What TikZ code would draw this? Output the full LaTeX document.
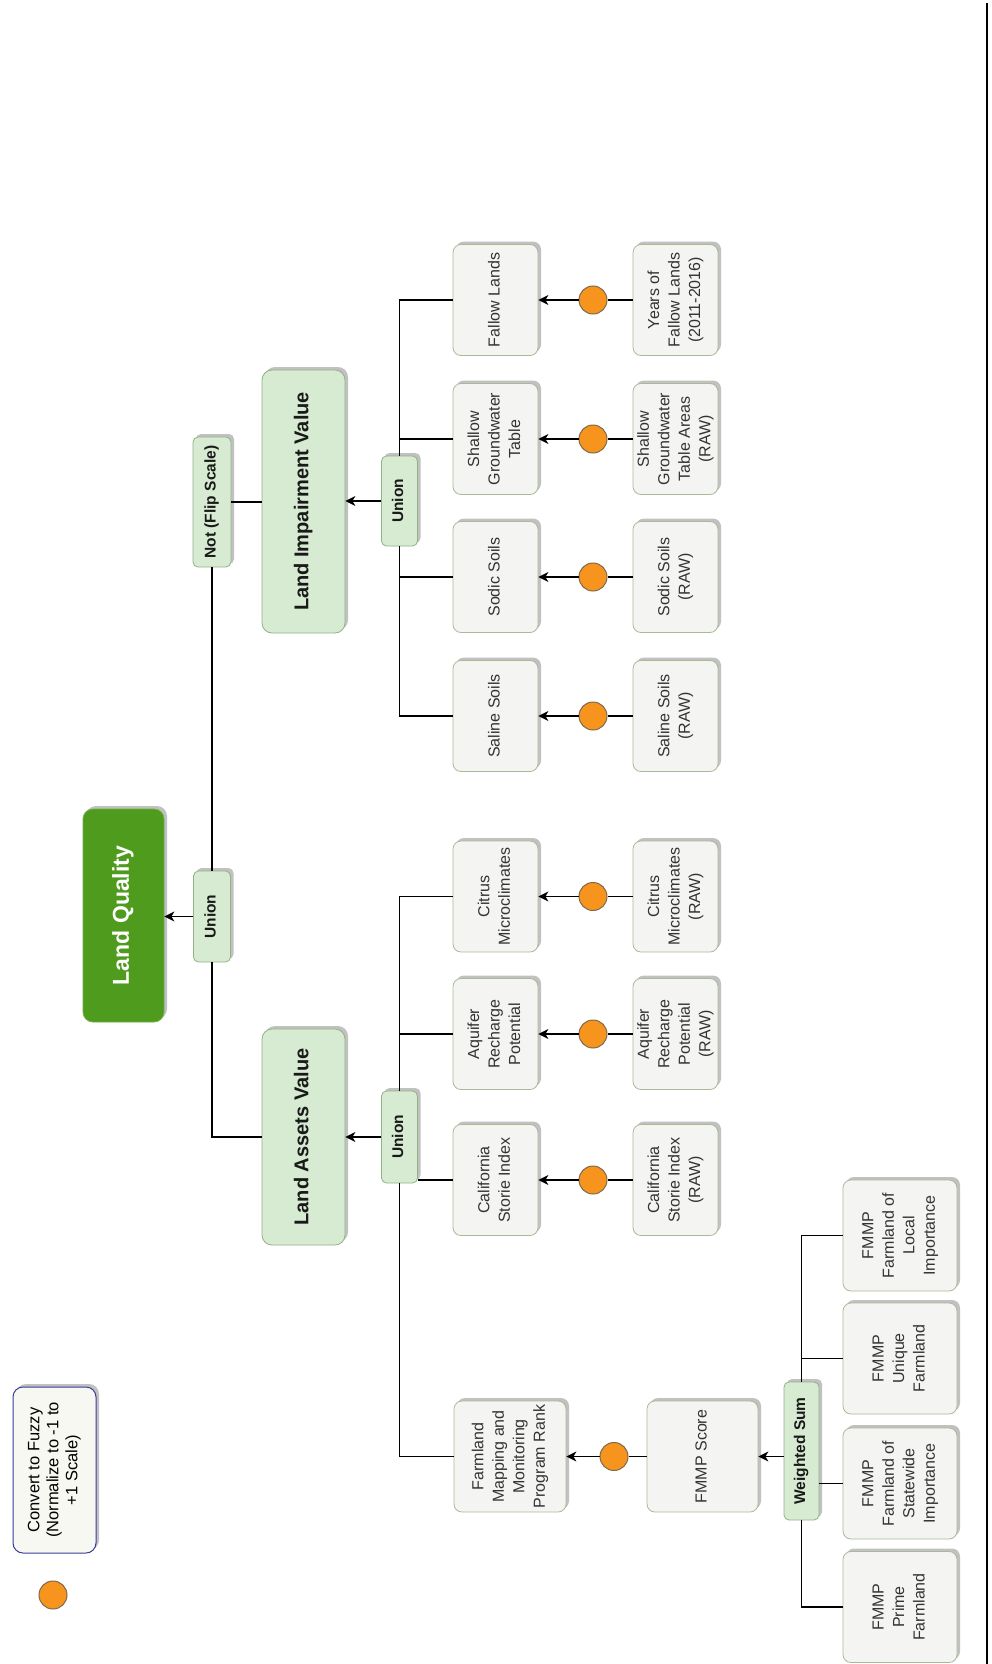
\documentclass[tikz,border=0pt]{standalone}
\usepackage{fontspec}
\usepackage{graphicx}
\setmainfont{Liberation Sans}
\usetikzlibrary{shadows,arrows.meta,calc}
\definecolor{boxfill}{HTML}{F4F5F3}
\definecolor{boxline}{HTML}{A9BA98}
\definecolor{gfill}{HTML}{D6EBD1}
\definecolor{gline}{HTML}{93B088}
\definecolor{lqfill}{HTML}{4F9B1E}
\definecolor{lqline}{HTML}{6DB043}
\definecolor{dotfill}{HTML}{F7941E}
\definecolor{dotline}{HTML}{7D6A4C}
\definecolor{legline}{HTML}{3B3BA0}
\definecolor{legfill}{HTML}{F8F8F3}
\definecolor{txt}{HTML}{333333}
\newcommand{\rt}[1]{\rotatebox{90}{\begin{tabular}{@{}c@{}}#1\end{tabular}}}
\tikzset{
  sbox/.style={draw=boxline, fill=boxfill, rounded corners=8pt, inner sep=0pt, line width=0.8pt,
    text=txt, font=\fontsize{16}{20.5}\selectfont,
    drop shadow={shadow xshift=3pt, shadow yshift=3pt, fill=black!40, opacity=.6}},
  gbox/.style={sbox, fill=gfill, draw=gline, text=black!90},
  opbox/.style={gbox, font=\bfseries\fontsize{15.5}{18}\selectfont, rounded corners=5pt},
  bigbox/.style={gbox, font=\bfseries\fontsize{20}{24}\selectfont, rounded corners=10pt},
  lqbox/.style={sbox, fill=lqfill, draw=lqline, text=white, font=\bfseries\fontsize{23}{27}\selectfont, rounded corners=10pt},
  legbox/.style={sbox, fill=legfill, draw=legline, line width=1pt, text=black, font=\fontsize{16.5}{19}\selectfont, rounded corners=10pt},
  mydot/.style={circle, draw=dotline, fill=dotfill, minimum size=28pt, inner sep=0pt, line width=1pt},
  arr/.style={-{Stealth[length=10pt,width=10pt,inset=3pt]}, line width=1.1pt},
  ln/.style={line width=1.1pt},
  small/.style={sbox, minimum width=85pt, minimum height=111pt},
  fm/.style={sbox, minimum width=114pt, minimum height=111pt},
}
\begin{document}
\begin{tikzpicture}[x=1pt,y=-1pt]
\useasboundingbox (0,0) rectangle (992,1664);
\fill[white] (0,0) rectangle (992,1664);

% legend
\node[legbox, minimum width=83pt, minimum height=166pt] (legend) at (54.5,1470) {\rt{Convert to Fuzzy\\(Normalize to -1 to\\+1 Scale)}};
\node[mydot] (legdot) at (53,1595) {};

% top levels
\node[lqbox, minimum width=81pt, minimum height=213pt] (lq) at (123.5,915.5) {\rt{Land Quality}};
\node[opbox, minimum width=37pt, minimum height=91pt] (u0) at (212,916.5) {\rt{Union}};
\node[opbox, minimum width=38pt, minimum height=130pt] (notop) at (212,502) {\rt{Not (Flip Scale)}};
\node[bigbox, minimum width=83pt, minimum height=263pt] (impair) at (303.5,501.5) {\rt{Land Impairment Value}};
\node[bigbox, minimum width=83pt, minimum height=216pt] (assets) at (303.5,1137) {\rt{Land Assets Value}};
\node[opbox, minimum width=36pt, minimum height=90pt] (u1) at (399.5,501) {\rt{Union}};
\node[opbox, minimum width=36pt, minimum height=92pt] (u2) at (399.5,1137) {\rt{Union}};

% impairment children
\node[small] (fallow) at (495.5,300) {\rt{Fallow Lands}};
\node[small] (shallow) at (495.5,439) {\rt{Shallow\\Groundwater\\Table}};
\node[small] (sodic) at (495.5,577) {\rt{Sodic Soils}};
\node[small] (saline) at (495.5,716) {\rt{Saline Soils}};
\node[mydot] (dfallow) at (593,300) {};
\node[mydot] (dshallow) at (593,439) {};
\node[mydot] (dsodic) at (593,577) {};
\node[mydot] (dsaline) at (593,716) {};
\node[small] (rfallow) at (675.5,300) {\rt{Years of\\Fallow Lands\\(2011-2016)}};
\node[small] (rshallow) at (675.5,439) {\rt{Shallow\\Groundwater\\Table Areas\\(RAW)}};
\node[small] (rsodic) at (675.5,577) {\rt{Sodic Soils\\(RAW)}};
\node[small] (rsaline) at (675.5,716) {\rt{Saline Soils\\(RAW)}};

% assets children
\node[small] (citrus) at (495.5,896.5) {\rt{Citrus\\Microclimates}};
\node[small] (aquifer) at (495.5,1034) {\rt{Aquifer\\Recharge\\Potential}};
\node[small] (cal) at (495.5,1180) {\rt{California\\Storie Index}};
\node[mydot] (dcitrus) at (593,896.5) {};
\node[mydot] (daquifer) at (593,1034) {};
\node[mydot] (dcal) at (593,1180) {};
\node[small] (rcitrus) at (675.5,896.5) {\rt{Citrus\\Microclimates\\(RAW)}};
\node[small] (raquifer) at (675.5,1034) {\rt{Aquifer\\Recharge\\Potential\\(RAW)}};
\node[small] (rcal) at (675.5,1180) {\rt{California\\Storie Index\\(RAW)}};

% FMMP branch
\node[sbox, minimum width=112pt, minimum height=111pt] (farm) at (510,1456.5) {\rt{Farmland\\Mapping and\\Monitoring\\Program Rank}};
\node[mydot] (dfarm) at (614,1456.5) {};
\node[sbox, minimum width=111pt, minimum height=111pt] (score) at (702.5,1456.5) {\rt{FMMP Score}};
\node[opbox, minimum width=35pt, minimum height=138pt] (ws) at (801.5,1451) {\rt{Weighted Sum}};
\node[fm] (local) at (900,1235.5) {\rt{FMMP\\Farmland of\\Local\\Importance}};
\node[fm] (unique) at (900,1358.5) {\rt{FMMP\\Unique\\Farmland}};
\node[fm] (state) at (900,1483.5) {\rt{FMMP\\Farmland of\\Statewide\\Importance}};
\node[fm] (prime) at (900,1607) {\rt{FMMP\\Prime\\Farmland}};

% connectors
\draw[arr] (u0.west) -- (lq.east |- u0.west);
\draw[ln] (u0.north) -- (notop.south);
\draw[ln] (u0.south) |- (assets.west);
\draw[ln] (notop.east) -- (impair.west |- notop.east);
\draw[arr] (u1.west) -- (impair.east |- u1.west);
\draw[arr] (u2.west) -- (assets.east |- u2.west);

\draw[ln] (u1.north) |- (fallow.west);
\draw[ln] (u1.north) |- (shallow.west);
\draw[ln] (u1.south) |- (sodic.west);
\draw[ln] (u1.south) |- (saline.west);
\foreach \n in {fallow,shallow,sodic,saline,citrus,aquifer,cal}{
  \draw[ln] (r\n.west) -- (d\n.east);
  \draw[arr] (d\n.west) -- (\n.east);
}
\draw[ln] (u2.north) |- (citrus.west);
\draw[ln] (u2.north) |- (aquifer.west);
\draw[ln] (u2.east |- cal.west) -- (cal.west);
\draw[ln] (u2.south) |- (farm.west);

\draw[ln] (score.west) -- (dfarm.east);
\draw[arr] (dfarm.west) -- (farm.east);
\draw[arr] (ws.west |- score.east) -- (score.east);
\draw[ln] (ws.north) |- (local.west);
\draw[ln] (ws.north) |- (unique.west);
\draw[ln] (ws.east |- state.west) -- (state.west);
\draw[ln] (ws.south) |- (prime.west);

% right frame line
\coordinate (rtop) at (987,3);
\coordinate (rbot) at (987,1664);
\draw[line width=1.5pt] (rtop) -- (rbot);
\end{tikzpicture}
\end{document}
